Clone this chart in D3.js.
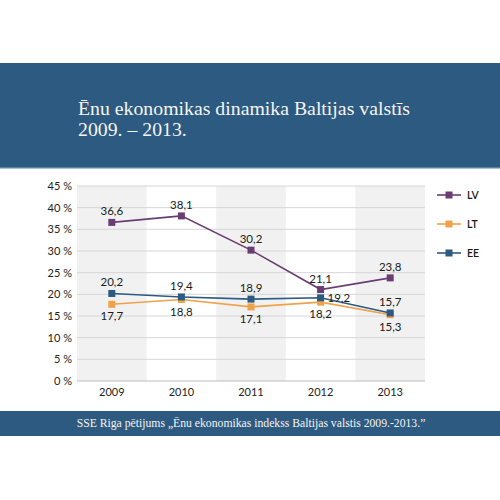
<!DOCTYPE html>
<html>
<head>
<meta charset="utf-8">
<script src="https://cdn.jsdelivr.net/npm/d3@7"></script>
<style>
  html, body { margin: 0; padding: 0; background: #fff; }
  svg { display: block; }
</style>
</head>
<body>
<div id="chart"></div>
<script>
const years = ['2009', '2010', '2011', '2012', '2013'];
const lv = [36.6, 38.1, 30.2, 21.1, 23.8];
const lt = [17.7, 18.8, 17.1, 18.2, 15.3];
const ee = [20.2, 19.4, 18.9, 19.2, 15.7];
const yTicks = [0, 5, 10, 15, 20, 25, 30, 35, 40, 45];
const titleLines = ['Ēnu ekonomikas dinamika Baltijas valstīs', '2009. – 2013.'];
const sourceText = 'SSE Riga pētijums „Ēnu ekonomikas indekss Baltijas valstis 2009.-2013.”';

const series = [
  { name: 'LV', values: lv, color: '#6a3d72', labelPos: ['top', 'top', 'top', 'top', 'top'] },
  { name: 'LT', values: lt, color: '#eea24a', labelPos: ['bottom', 'bottom', 'bottom', 'bottom', 'bottom'] },
  { name: 'EE', values: ee, color: '#2d5a80', labelPos: ['top', 'top', 'top', 'right', 'top'] }
];

const W = 500, H = 500;
const navy = '#2d5a80';
const sans = 'Lato, "Noto Sans", sans-serif';
const serif = '"Liberation Serif", "DejaVu Serif", serif';

const svg = d3.select('#chart').append('svg')
  .attr('width', W)
  .attr('height', H);

// Header band
svg.append('rect')
  .attr('x', 0).attr('y', 63)
  .attr('width', W).attr('height', 105)
  .attr('fill', navy);
svg.append('rect')
  .attr('x', 0).attr('y', 167)
  .attr('width', W).attr('height', 1.5)
  .attr('fill', '#5b7f9f');

svg.append('g')
  .selectAll('text')
  .data(titleLines)
  .enter()
  .append('text')
  .attr('x', 78)
  .attr('y', (d, i) => 115 + i * 21)
  .attr('fill', '#f4f4f4')
  .style('font-family', serif)
  .style('font-size', '19.8px')
  .text(d => d);

// Plot area
const plot = { left: 77, right: 425, top: 186, bottom: 381 };

const x = d3.scaleBand()
  .domain(years)
  .range([plot.left, plot.right])
  .padding(0);

const y = d3.scaleLinear()
  .domain([0, 45])
  .range([plot.bottom, plot.top]);

// Alternating column shading
svg.append('g')
  .selectAll('rect')
  .data(years.filter((d, i) => i % 2 === 0))
  .enter()
  .append('rect')
  .attr('x', d => x(d))
  .attr('y', plot.top)
  .attr('width', x.bandwidth())
  .attr('height', plot.bottom - plot.top)
  .attr('fill', '#f1f1f1');

// Gridlines
svg.append('g')
  .selectAll('line')
  .data(yTicks)
  .enter()
  .append('line')
  .attr('x1', plot.left)
  .attr('x2', plot.right)
  .attr('y1', d => y(d))
  .attr('y2', d => y(d))
  .attr('stroke', d => d === 0 ? '#bdbdbd' : '#d6d6d6')
  .attr('stroke-width', 1);

// Y axis
const yAxis = d3.axisLeft(y)
  .tickValues(yTicks)
  .tickSize(0)
  .tickPadding(5)
  .tickFormat(d => d + ' %');

svg.append('g')
  .attr('transform', `translate(${plot.left},0)`)
  .call(yAxis)
  .call(g => g.select('.domain').remove())
  .selectAll('text')
  .attr('fill', '#222')
  .style('font-family', sans)
  .style('font-size', '11px');

// X axis
const xAxis = d3.axisBottom(x)
  .tickSize(0)
  .tickPadding(7);

svg.append('g')
  .attr('transform', `translate(0,${plot.bottom})`)
  .call(xAxis)
  .call(g => g.select('.domain').remove())
  .selectAll('text')
  .attr('fill', '#222')
  .style('font-family', sans)
  .style('font-size', '11px');

// Lines, markers, labels
const line = d3.line()
  .x((d, i) => x(years[i]) + x.bandwidth() / 2)
  .y(d => y(d));

series.forEach(s => {
  const g = svg.append('g');

  g.append('path')
    .attr('d', line(s.values))
    .attr('fill', 'none')
    .attr('stroke', s.color)
    .attr('stroke-width', 1.6);

  g.selectAll('rect')
    .data(s.values)
    .enter()
    .append('rect')
    .attr('x', (d, i) => x(years[i]) + x.bandwidth() / 2 - 3.5)
    .attr('y', d => y(d) - 3.5)
    .attr('width', 7)
    .attr('height', 7)
    .attr('fill', s.color);

  g.selectAll('text')
    .data(s.values)
    .enter()
    .append('text')
    .attr('x', (d, i) => {
      const cx = x(years[i]) + x.bandwidth() / 2;
      return s.labelPos[i] === 'right' ? cx + 7 : cx;
    })
    .attr('y', (d, i) => {
      const pos = s.labelPos[i];
      if (pos === 'top') return y(d) - 7;
      if (pos === 'bottom') return y(d) + 16;
      return y(d) + 4;
    })
    .attr('text-anchor', (d, i) => s.labelPos[i] === 'right' ? 'start' : 'middle')
    .attr('fill', '#1a1a1a')
    .style('font-family', sans)
    .style('font-size', '11.5px')
    .text(d => d3.format('.1f')(d).replace('.', ','));
});

// Legend
const legend = svg.append('g')
  .selectAll('g')
  .data(series)
  .enter()
  .append('g')
  .attr('transform', (d, i) => `translate(437,${195 + i * 29})`);

legend.append('line')
  .attr('x1', 0).attr('x2', 24)
  .attr('y1', 0).attr('y2', 0)
  .attr('stroke', d => d.color)
  .attr('stroke-width', 1.6);

legend.append('rect')
  .attr('x', 8.5).attr('y', -3.5)
  .attr('width', 7).attr('height', 7)
  .attr('fill', d => d.color);

legend.append('text')
  .attr('x', 30)
  .attr('y', 4)
  .attr('fill', '#1a1a1a')
  .style('font-family', sans)
  .style('font-size', '10.5px')
  .style('font-weight', '600')
  .text(d => d.name);

// Footer band
svg.append('rect')
  .attr('x', 0).attr('y', 411)
  .attr('width', W).attr('height', 25)
  .attr('fill', navy);

svg.append('text')
  .attr('x', 251)
  .attr('y', 427)
  .attr('text-anchor', 'middle')
  .attr('fill', '#f4f4f4')
  .style('font-family', serif)
  .style('font-size', '11.7px')
  .text(sourceText);
</script>
</body>
</html>
